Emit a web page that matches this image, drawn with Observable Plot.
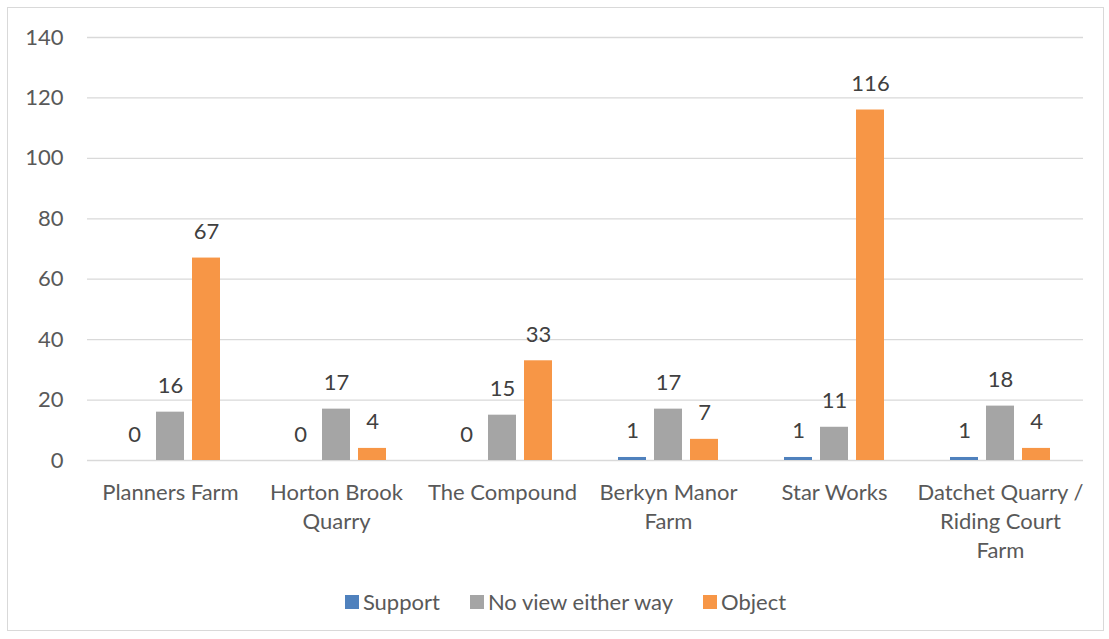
<!DOCTYPE html>
<html>
<head>
<meta charset="utf-8">
<script src="https://cdn.jsdelivr.net/npm/d3@7"></script>
<script src="https://cdn.jsdelivr.net/npm/@observablehq/plot@0.6"></script>
<style>
  html, body { margin: 0; padding: 0; background: #fff; }
  #frame {
    position: absolute; left: 7px; top: 7px; width: 1097px; height: 624px;
    border: 1px solid #d9d9d9; box-sizing: border-box; overflow: hidden;
    font-family: Lato, "Open Sans", sans-serif;
  }
  #legend { display: flex; justify-content: center; margin-top: 12px; padding-left: 50px; }
  .lg-swatches { justify-content: center; }
  .lg-swatch { margin-right: 30px !important; }
  .lg-swatch svg { margin-right: 4px !important; }
</style>
</head>
<body>
<div id="frame"><div id="chart"></div><div id="legend"></div></div>
<script>
const categories = ["Planners Farm", "Horton Brook Quarry", "The Compound", "Berkyn Manor Farm", "Star Works", "Datchet Quarry / Riding Court Farm"];
const categoryLabels = ["Planners Farm", "Horton Brook\nQuarry", "The Compound", "Berkyn Manor\nFarm", "Star Works", "Datchet Quarry /\nRiding Court\nFarm"];
const seriesNames = ["Support", "No view either way", "Object"];
const support = [0, 0, 0, 1, 1, 1];
const noView = [16, 17, 15, 17, 11, 18];
const object = [67, 4, 33, 7, 116, 4];
const colors = ["#4F81BD", "#A5A5A5", "#F79646"];
const yTicks = [0, 20, 40, 60, 80, 100, 120, 140];

const seriesValues = [support, noView, object];
const data = [];
categories.forEach((c, i) => {
  seriesNames.forEach((s, j) => data.push({category: c, series: s, value: seriesValues[j][i]}));
});
const labelOf = new Map(categories.map((c, i) => [c, categoryLabels[i]]));

const chart = Plot.plot({
  width: 1095,
  height: 565,
  marginLeft: 76,
  marginRight: 18,
  marginTop: 29,
  marginBottom: 113,
  style: {fontFamily: "Lato, 'Open Sans', sans-serif", fontSize: "22px", color: "#595959", background: "transparent"},
  fx: {domain: categories, padding: 0, label: null},
  x: {domain: seriesNames, axis: null, paddingInner: 0.216, paddingOuter: 0.868},
  y: {domain: [0, 140], ticks: yTicks, tickSize: 0, tickPadding: 24, label: null, grid: false},
  color: {domain: seriesNames, range: colors},
  marks: [
    Plot.gridY(yTicks, {stroke: "#d9d9d9", strokeOpacity: 1, strokeWidth: 1.3}),
    Plot.axisFx({anchor: "bottom", label: null, tickSize: 0, tickPadding: 19, lineHeight: 1.32, fontSize: 22, fill: "#595959", tickFormat: d => labelOf.get(d)}),
    Plot.barY(data, {fx: "category", x: "series", y: "value", fill: "series"}),
    Plot.text(data, {fx: "category", x: "series", y: "value", text: d => String(d.value), lineAnchor: "bottom", dy: -19, fill: "#404040", fontSize: 22})
  ]
});
document.getElementById("chart").appendChild(chart);

const legend = Plot.legend({
  color: {domain: seriesNames, range: colors},
  swatchSize: 14,
  className: "lg",
  style: {fontFamily: "Lato, 'Open Sans', sans-serif", fontSize: "22px", color: "#595959"}
});
document.getElementById("legend").appendChild(legend);
</script>
</body>
</html>
